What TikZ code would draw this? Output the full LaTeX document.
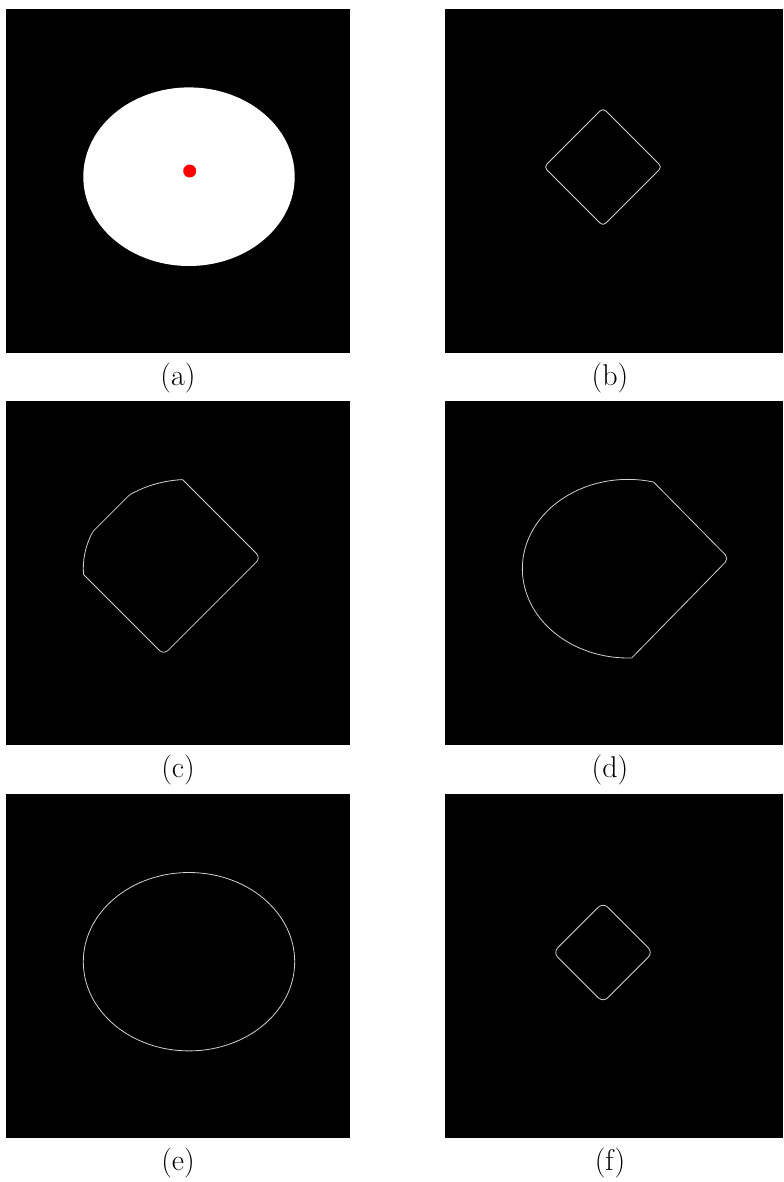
\documentclass[tikz,border=0pt]{standalone}
\begin{document}
\begin{tikzpicture}[x=0.75pt,y=-0.75pt,
  panel/.style={fill=black},
  outl/.style={draw=white!82!black,line width=0.6pt},
  lab/.style={anchor=base,font=\fontsize{22.5}{27}\selectfont,inner sep=0pt}]
\useasboundingbox (0,0) rectangle (783,1182);
\fill[white] (0,0) rectangle (783,1182);
% panels
\fill[panel] (6,9) rectangle (350,353);
\fill[panel] (445,9) rectangle (783,353);
\fill[panel] (6,401) rectangle (350,745);
\fill[panel] (445,401) rectangle (783,745);
\fill[panel] (6,794) rectangle (350,1138);
\fill[panel] (445,794) rectangle (783,1138);
% (a)
\fill[white] (189,176.7) ellipse [x radius=105.7, y radius=89.3];
\fill[red] (189.7,171) circle [radius=6.5];
% (b)
\draw[outl,rounded corners=3pt] (632.5,137.5) -- (662,167) -- (603,226) -- (544,167) -- (603,108) -- cycle;
% (c)
\begin{scope}
  \clip (189,568.7) ellipse [x radius=105.7, y radius=89.3];
  \draw[outl,rounded corners=4.5pt] (212.2,509.2) -- (260.7,557.7) -- (163.7,654.7) -- (66.7,557.7) -- (163.7,460.7) -- cycle;
\end{scope}
\begin{scope}
  \clip[rounded corners=4.5pt] (212.2,509.2) -- (260.7,557.7) -- (163.7,654.7) -- (66.7,557.7) -- (163.7,460.7) -- cycle;
  \draw[outl] (189,568.7) ellipse [x radius=105.7, y radius=89.3];
\end{scope}
% (d)
\draw[outl] (653.6,482.05) arc[start angle=-76, end angle=-272, x radius=105.7, y radius=89.3];
\draw[outl,rounded corners=4pt] (631.7,657.95) -- (729,558.5) -- (653.6,482.05);
% (e)
\draw[outl] (189,961.7) ellipse [x radius=105.7, y radius=89.2];
% (f)
\draw[outl,rounded corners=5pt] (628,927.5) -- (653,952.5) -- (603,1002.5) -- (553,952.5) -- (603,902.5) -- cycle;
% labels
\node[lab] (la) at (178,385) {(a)};
\node[lab] (lb) at (610,385) {(b)};
\node[lab] (lc) at (178,777.5) {(c)};
\node[lab] (ld) at (610,777.5) {(d)};
\node[lab] (le) at (178,1170) {(e)};
\node[lab] (lf) at (610,1170) {(f)};
\end{tikzpicture}
\end{document}
